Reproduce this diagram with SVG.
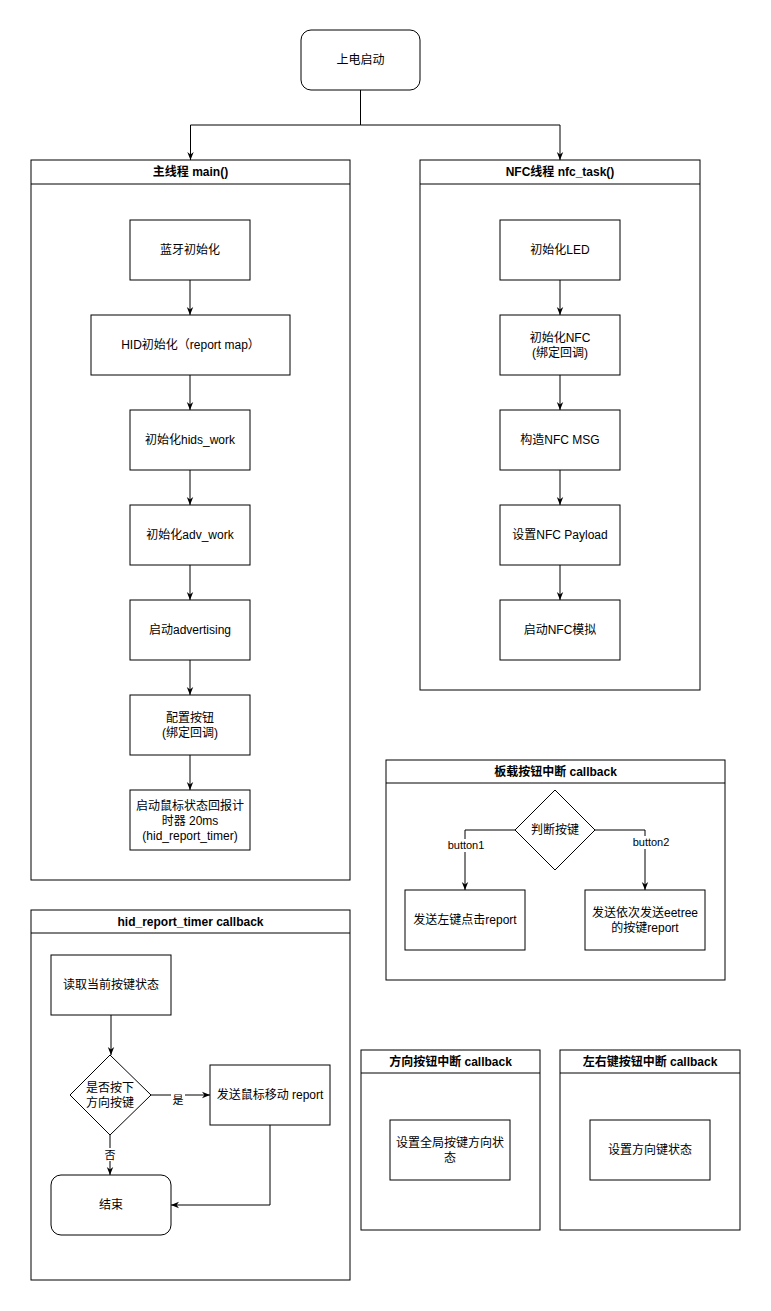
<svg xmlns="http://www.w3.org/2000/svg" width="771" height="1311" viewBox="0 0 771 1311">
<defs>
<style>
.b{fill:#fff;stroke:#000;stroke-width:1}
.c{fill:none;stroke:#000;stroke-width:1}
.t{font-family:"Liberation Sans","Noto Sans CJK SC",sans-serif;font-size:12px;fill:#000;text-anchor:middle}
.h{font-family:"Liberation Sans","Noto Sans CJK SC",sans-serif;font-size:12px;font-weight:bold;fill:#000;text-anchor:middle}
.lb{font-family:"Liberation Sans","Noto Sans CJK SC",sans-serif;font-size:11px;fill:#000;text-anchor:middle}
</style>
<marker id="ar" viewBox="0 0 10 10" refX="10" refY="5" markerWidth="8" markerHeight="8" markerUnits="userSpaceOnUse" orient="auto">
<path d="M0,1 L10,5 L0,9 L3,5 Z" fill="#000"/>
</marker>
</defs>
<rect width="771" height="1311" fill="#fff"/>

<g id="start"><rect class="b" x="301" y="30" width="119" height="60" rx="10"/><text class="t" x="360.5" y="64">上电启动</text></g>

<g id="main-thread">
<rect class="b" x="31" y="160" width="319" height="720"/><line class="c" x1="31" y1="184" x2="350" y2="184"/>
<text class="h" x="190.5" y="176">主线程 main()</text>
</g>
<g id="nfc-thread">
<rect class="b" x="420" y="160" width="280" height="530"/><line class="c" x1="420" y1="184" x2="700" y2="184"/>
<text class="h" x="560" y="176">NFC线程 nfc_task()</text>
</g>

<g id="m1"><rect class="b" x="130" y="220" width="120" height="60"/><text class="t" x="190" y="254">蓝牙初始化</text></g>
<g id="m2"><rect class="b" x="91" y="315" width="199" height="60"/><text class="t" x="190.5" y="349">HID初始化（report map）</text></g>
<g id="m3"><rect class="b" x="130" y="410" width="120" height="60"/><text class="t" x="190" y="444">初始化hids_work</text></g>
<g id="m4"><rect class="b" x="130" y="505" width="120" height="60"/><text class="t" x="190" y="539">初始化adv_work</text></g>
<g id="m5"><rect class="b" x="130" y="600" width="120" height="60"/><text class="t" x="190" y="634">启动advertising</text></g>
<g id="m6"><rect class="b" x="130" y="695" width="120" height="60"/><text class="t" x="190" y="722">配置按钮</text><text class="t" x="190" y="737">(绑定回调)</text></g>
<g id="m7"><rect class="b" x="130" y="790" width="120" height="60"/><text class="t" x="190" y="810">启动鼠标状态回报计</text><text class="t" x="190" y="825">时器 20ms</text><text class="t" x="190" y="840">(hid_report_timer)</text></g>

<g id="n1"><rect class="b" x="500" y="220" width="120" height="60"/><text class="t" x="560" y="254">初始化LED</text></g>
<g id="n2"><rect class="b" x="500" y="315" width="120" height="60"/><text class="t" x="560" y="342">初始化NFC</text><text class="t" x="560" y="357">(绑定回调)</text></g>
<g id="n3"><rect class="b" x="500" y="410" width="120" height="60"/><text class="t" x="560" y="444">构造NFC MSG</text></g>
<g id="n4"><rect class="b" x="500" y="505" width="120" height="60"/><text class="t" x="560" y="539">设置NFC Payload</text></g>
<g id="n5"><rect class="b" x="500" y="600" width="120" height="60"/><text class="t" x="560" y="634">启动NFC模拟</text></g>

<g id="board-cb">
<rect class="b" x="386" y="760" width="339" height="220"/><line class="c" x1="386" y1="783" x2="725" y2="783"/>
<text class="h" x="555.5" y="776">板载按钮中断 callback</text>
</g>
<g id="b-dec"><path class="b" d="M555,790 L595,830 L555,870 L515,830 Z"/><text class="t" x="555" y="834">判断按键</text></g>
<g id="b1"><rect class="b" x="405" y="890" width="120" height="60"/><text class="t" x="465" y="924">发送左键点击report</text></g>
<g id="b2"><rect class="b" x="585" y="890" width="120" height="60"/><text class="t" x="645" y="917">发送依次发送eetree</text><text class="t" x="645" y="932">的按键report</text></g>

<g id="timer-cb">
<rect class="b" x="31" y="910" width="319" height="370"/><line class="c" x1="31" y1="933" x2="350" y2="933"/>
<text class="h" x="190.5" y="926">hid_report_timer callback</text>
</g>
<g id="t1"><rect class="b" x="51" y="955" width="120" height="60"/><text class="t" x="111" y="989">读取当前按键状态</text></g>
<g id="t-dec"><path class="b" d="M110,1055 L151,1095 L110,1135 L70,1095 Z"/><text class="t" x="110" y="1092">是否按下</text><text class="t" x="110" y="1107">方向按键</text></g>
<g id="t2"><rect class="b" x="210" y="1065" width="120" height="60"/><text class="t" x="270" y="1099">发送鼠标移动 report</text></g>
<g id="t-end"><rect class="b" x="51" y="1175" width="120" height="60" rx="10"/><text class="t" x="111" y="1209">结束</text></g>

<g id="dir-cb">
<rect class="b" x="361" y="1050" width="179" height="180"/><line class="c" x1="361" y1="1073" x2="540" y2="1073"/>
<text class="h" x="450.5" y="1066">方向按钮中断 callback</text>
</g>
<g id="d1"><rect class="b" x="390" y="1120" width="120" height="60"/><text class="t" x="450" y="1147">设置全局按键方向状</text><text class="t" x="450" y="1162">态</text></g>

<g id="lr-cb">
<rect class="b" x="560" y="1050" width="180" height="180"/><line class="c" x1="560" y1="1073" x2="740" y2="1073"/>
<text class="h" x="650" y="1066">左右键按钮中断 callback</text>
</g>
<g id="l1"><rect class="b" x="590" y="1120" width="120" height="60"/><text class="t" x="650" y="1154">设置方向键状态</text></g>

<g id="connectors">
<path class="c" d="M360.5,90 V125 H190.5 V160" marker-end="url(#ar)"/>
<path class="c" d="M360.5,125 H560 V160" marker-end="url(#ar)"/>
<path class="c" d="M190,280 V315" marker-end="url(#ar)"/>
<path class="c" d="M190,375 V410" marker-end="url(#ar)"/>
<path class="c" d="M190,470 V505" marker-end="url(#ar)"/>
<path class="c" d="M190,565 V600" marker-end="url(#ar)"/>
<path class="c" d="M190,660 V695" marker-end="url(#ar)"/>
<path class="c" d="M190,755 V790" marker-end="url(#ar)"/>
<path class="c" d="M560,280 V315" marker-end="url(#ar)"/>
<path class="c" d="M560,375 V410" marker-end="url(#ar)"/>
<path class="c" d="M560,470 V505" marker-end="url(#ar)"/>
<path class="c" d="M560,565 V600" marker-end="url(#ar)"/>
<path class="c" d="M515,830 H465 V890" marker-end="url(#ar)"/>
<path class="c" d="M595,830 H645 V890" marker-end="url(#ar)"/>
<path class="c" d="M111,1015 V1055" marker-end="url(#ar)"/>
<path class="c" d="M151,1095 H210" marker-end="url(#ar)"/>
<path class="c" d="M110,1135 V1175" marker-end="url(#ar)"/>
<path class="c" d="M270,1125 V1205 H171" marker-end="url(#ar)"/>
<rect x="450" y="839" width="32" height="13" fill="#fff"/>
<text class="lb" x="466" y="849">button1</text>
<rect x="630" y="836" width="32" height="13" fill="#fff"/>
<text class="lb" x="651" y="846">button2</text>
<rect x="171" y="1093" width="14" height="13" fill="#fff"/>
<text class="lb" x="178" y="1104">是</text>
<rect x="103" y="1148" width="14" height="13" fill="#fff"/>
<text class="lb" x="110" y="1159">否</text>
</g>
</svg>
